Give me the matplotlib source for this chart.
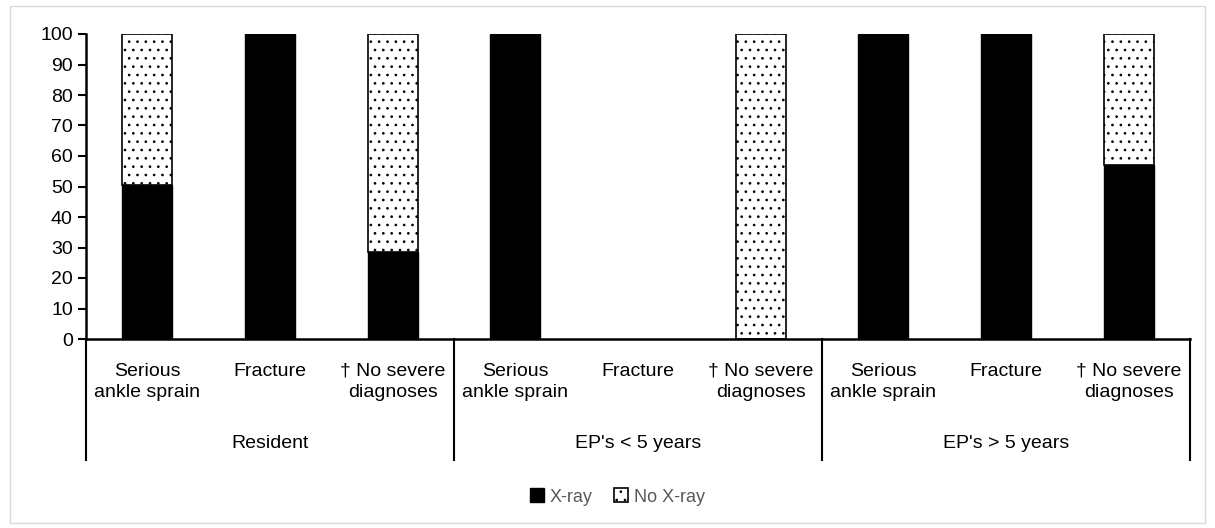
import matplotlib.pyplot as plt
import matplotlib.transforms as mtransforms
from matplotlib.patches import Rectangle
import numpy as np

plt.rcParams['font.family'] = ['Liberation Sans', 'DejaVu Sans']
plt.rcParams['hatch.linewidth'] = 0.7

groups = ['Resident', "EP's < 5 years", "EP's > 5 years"]
diagnoses = ['Serious\nankle sprain', 'Fracture', '\u2020 No severe\ndiagnoses']
xray = [50.5, 100, 28.5, 100, 0, 0, 100, 100, 57]
no_xray = [49.5, 0, 71.5, 0, 0, 100, 0, 0, 43]

fig = plt.figure(figsize=(12.15, 5.28), dpi=100)
ax = fig.add_axes([86 / 1215, 1 - 339 / 528, (1190 - 86) / 1215, (339 - 34) / 528])

x = np.arange(len(xray))
ax.bar(x, xray, width=0.41, color='black', edgecolor='black', label='X-ray',
       linewidth=[1 if v else 0 for v in xray])
ax.bar(x, no_xray, bottom=xray, width=0.41, color='white', edgecolor='black',
       hatch='..', label='No X-ray',
       linewidth=[1.2 if v else 0 for v in no_xray])

ax.set_xlim(-0.5, len(xray) - 0.5)
ax.set_ylim(0, 100)
ax.set_yticks(range(0, 101, 10))
ax.tick_params(axis='y', labelsize=14, length=6, width=1.5, direction='out')
ax.set_xticks([])
for side in ['top', 'right']:
    ax.spines[side].set_visible(False)
for side in ['left', 'bottom']:
    ax.spines[side].set_linewidth(1.8)

trans = mtransforms.blended_transform_factory(ax.transData, ax.transAxes)
low = -(460 - 339) / 305
for b in [-0.5, 2.5, 5.5, 8.5]:
    ax.plot([b, b], [0, low], color='black', lw=1.5, transform=trans, clip_on=False)

for i in x:
    ax.text(i, -0.078, diagnoses[i % 3], transform=trans, ha='center', va='top',
            fontsize=14, linespacing=1.3)
for g, name in enumerate(groups):
    ax.text(3 * g + 1, -0.341, name, transform=trans, ha='center', va='center',
            fontsize=14)

leg = fig.legend(loc='center', bbox_to_anchor=(0.508, 1 - 497 / 528), ncol=2,
                 frameon=False, fontsize=13, handlelength=0.8, handleheight=0.8,
                 handletextpad=0.3, columnspacing=1.2)
for t in leg.get_texts():
    t.set_color('#595959')

fig.patches.append(Rectangle((10 / 1215, 1 - 523 / 528), 1195 / 1215, 517 / 528,
                             transform=fig.transFigure, fill=False,
                             edgecolor='#d9d9d9', lw=1))

fig.savefig('out.png', dpi=100)
